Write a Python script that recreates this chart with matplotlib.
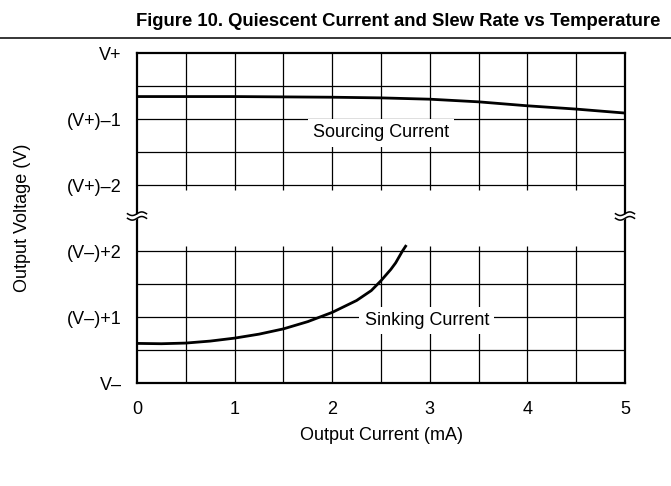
import numpy as np
import matplotlib
matplotlib.use("Agg")
import matplotlib.pyplot as plt

plt.rcParams['font.family'] = ['Liberation Sans', 'DejaVu Sans']

# ---- data ----
# Sinking current: output voltage above V- (V) vs output current (mA)
sink_current = [0.0, 0.25, 0.5, 0.75, 1.0, 1.25, 1.5, 1.75, 2.0, 2.25, 2.4, 2.5, 2.6, 2.65, 2.72, 2.76]
sink_v_above_vminus = [0.60, 0.595, 0.605, 0.635, 0.68, 0.74, 0.82, 0.93, 1.07, 1.25, 1.40, 1.55, 1.72, 1.82, 2.0, 2.09]

# Sourcing current: output voltage below V+ (V) vs output current (mA)
source_current = [0.0, 0.5, 1.0, 1.5, 2.0, 2.5, 3.0, 3.5, 4.0, 4.5, 5.0]
source_v_below_vplus = [0.66, 0.66, 0.66, 0.665, 0.67, 0.68, 0.70, 0.74, 0.80, 0.85, 0.91]

x_ticks = [0, 1, 2, 3, 4, 5]
x_tick_labels = ["0", "1", "2", "3", "4", "5"]
y_ticks = [0, 1, 2, 3, 4, 5]
y_tick_labels = ["V\u2013", "(V\u2013)+1", "(V\u2013)+2", "(V+)\u20132", "(V+)\u20131", "V+"]

title = "Figure 10. Quiescent Current and Slew Rate vs Temperature"

# broken axis: lower section 0..2 (V- .. V-+2), upper 3..5 (V+-2 .. V+)
Y_TOP = 5.0
LOW_TOP = 2.0
UP_BOT = 3.0

fig = plt.figure(figsize=(6.71, 4.86), dpi=100)
ax = fig.add_axes([137/671, 1 - 383/486, 488/671, 330/486])
ax.set_xlim(0, 5)
ax.set_ylim(0, Y_TOP)

# grid lines
gcol = 'black'
glw = 0.9
hl_low = [0.5, 1.0, 1.5, 2.0]
hl_up = [3.0, 3.5, 4.0, 4.5]
ax.hlines(hl_low + hl_up, 0, 5, colors=gcol, linewidth=glw, zorder=1)
vx = np.arange(0.5, 5.0, 0.5)
ext = 5 / 66  # small overshoot of vertical grid lines into the gap
ax.vlines(vx, 0, LOW_TOP + ext, colors=gcol, linewidth=glw, zorder=1)
ax.vlines(vx, UP_BOT - ext, Y_TOP, colors=gcol, linewidth=glw, zorder=1)

# curves
ax.plot(sink_current, sink_v_above_vminus, color='black', linewidth=2.0,
        solid_capstyle='butt', solid_joinstyle='round', zorder=3)
ax.plot(source_current, [Y_TOP - v for v in source_v_below_vplus], color='black',
        linewidth=2.0, solid_capstyle='butt', solid_joinstyle='round', zorder=3)

# labels with white boxes
box = dict(boxstyle='square,pad=0.3', facecolor='white', edgecolor='none')
ax.text(2.50, 3.72, "Sourcing Current", fontsize=13, ha='center', va='baseline',
        bbox=box, zorder=4)
ax.text(2.97, 0.88, "Sinking Current", fontsize=13, ha='center', va='baseline',
        bbox=box, zorder=4)

# spines
for s in ax.spines.values():
    s.set_linewidth(1.6)
    s.set_color('black')

# ticks
ax.set_xticks(x_ticks)
ax.set_xticklabels(x_tick_labels)
ax.set_yticks(y_ticks)
ax.set_yticklabels(y_tick_labels)
ax.tick_params(axis='both', length=0, labelsize=13)
ax.tick_params(axis='x', pad=13)
ax.tick_params(axis='y', pad=11)

ax.set_xlabel("Output Current (mA)", fontsize=13)
ax.xaxis.set_label_coords(0.5, -0.158)
ax.xaxis.label.set_va('center')
ax.set_ylabel("Output Voltage (V)", fontsize=13)
ax.yaxis.set_label_coords(-0.235, 0.5)
ax.yaxis.label.set_va('center')

# break marks on both spines
t = np.linspace(-1, 1, 60)
hw = 9.5 / 488          # half width in axes fraction
amp = 1.8 / 330         # amplitude
sep = 2.3 / 330         # half separation
yc = 2.53 / Y_TOP
for xc in (0.0, 1.0):
    xs = xc + t * hw
    wave = amp * np.sin(np.pi * t)
    y1 = yc + sep + wave
    y2 = yc - sep + wave
    ax.fill_between(xs, y2, y1, color='white', transform=ax.transAxes,
                    clip_on=False, zorder=5, linewidth=0)
    ax.plot(xs, y1, color='black', linewidth=1.1, transform=ax.transAxes,
            clip_on=False, zorder=6)
    ax.plot(xs, y2, color='black', linewidth=1.1, transform=ax.transAxes,
            clip_on=False, zorder=6)

# title and rule
fig.text(660/671, 1 - 26/486, title, fontsize=13.3, fontweight='bold',
         ha='right', va='baseline')
fig.add_artist(plt.Line2D([0, 1], [1 - 38/486, 1 - 38/486], color='black',
                          linewidth=1.1, transform=fig.transFigure))

fig.savefig("out.png", dpi=100)
